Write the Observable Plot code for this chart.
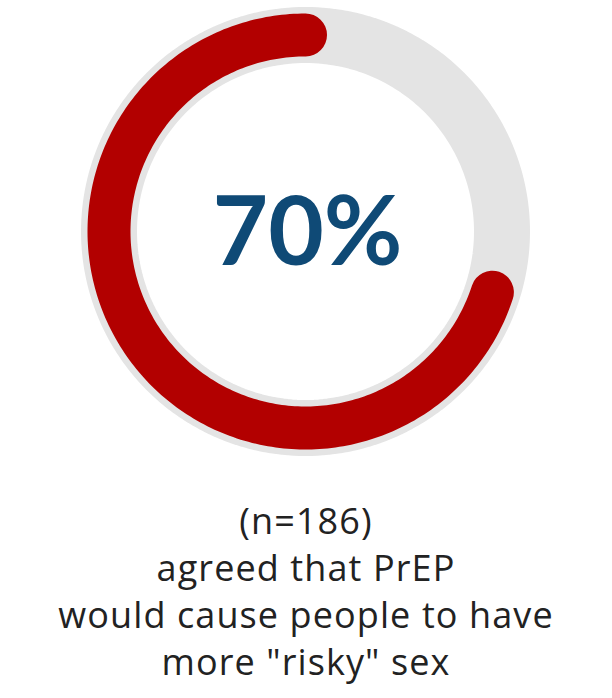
<!DOCTYPE html>
<html>
<head>
<meta charset="utf-8">
<script src="https://cdn.jsdelivr.net/npm/d3@7"></script>
<script src="https://cdn.jsdelivr.net/npm/@observablehq/plot@0.6"></script>
<style>
  html, body { margin: 0; padding: 0; background: #fff; }
  #chart { width: 612px; }
  #chart svg { display: block; }
  .caption {
    width: 612px;
    text-align: center;
    font-family: "Open Sans", Lato, sans-serif;
    font-size: 36px;
    letter-spacing: 1.1px;
    line-height: 47px;
    color: #222;
    margin-top: 16.5px;
  }
</style>
</head>
<body>
<div id="chart"></div>
<div class="caption" id="caption"></div>
<script>
// ---- data ----
const segments = ["agreed", "other"];
const shares = [70, 30];
const centerLabel = "70%";
const captionLines = ["(n=186)", "agreed that PrEP", "would cause people to have", "more \"risky\" sex"];

// ---- ring geometry derived from the data (share of a full turn, from 12 o'clock, counter-clockwise) ----
function arcPoints(startFrac, endFrac, name) {
  const steps = 240;
  const pts = [];
  for (let i = 0; i <= steps; i++) {
    const f = startFrac + (endFrac - startFrac) * i / steps;
    const a = -2 * Math.PI * f;
    pts.push({segment: name, x: Math.sin(a), y: Math.cos(a)});
  }
  return pts;
}
const total = d3.sum(shares);
const track = arcPoints(0, 1, "track");
const valueArc = arcPoints(0, shares[0] / total, segments[0]);

const cx = 305, cy = 231, r = 196.5;
const plot = Plot.plot({
  width: 612,
  height: 480,
  margin: 0,
  x: {domain: [-1, 1], range: [cx - r, cx + r], axis: null},
  y: {domain: [-1, 1], range: [cy + r, cy - r], axis: null},
  marks: [
    Plot.line(track, {x: "x", y: "y", stroke: "#e4e4e4", strokeWidth: 56, curve: "linear"}),
    Plot.line(valueArc, {x: "x", y: "y", stroke: "#b20000", strokeWidth: 43, strokeLinecap: "round", curve: "linear"}),
    Plot.text([centerLabel], {
      x: () => 0, y: () => 0, text: d => d,
      fontSize: 96, fontWeight: "bold", fill: "#0f4a76",
      fontFamily: "Lato, 'Open Sans', sans-serif",
      textAnchor: "middle", dx: 2, dy: 3
    })
  ]
});
document.getElementById("chart").appendChild(plot);
document.getElementById("caption").innerHTML = captionLines.map(s => s.replace(/&/g,"&amp;").replace(/</g,"&lt;")).join("<br>");
</script>
</body>
</html>
